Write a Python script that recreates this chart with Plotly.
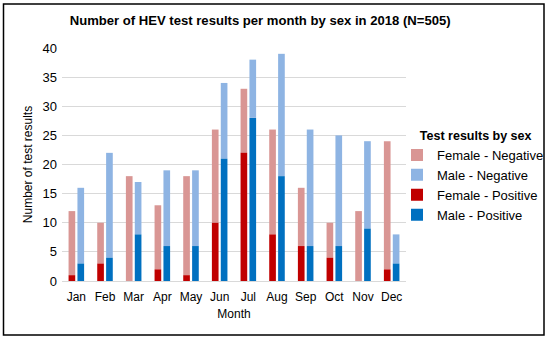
import plotly.graph_objects as go

months = ["Jan", "Feb", "Mar", "Apr", "May", "Jun", "Jul", "Aug", "Sep", "Oct", "Nov", "Dec"]
female_positive = [1, 3, 0, 2, 1, 10, 22, 8, 6, 4, 0, 2]
female_negative = [11, 7, 18, 11, 17, 16, 11, 18, 10, 6, 12, 22]
male_positive = [3, 4, 8, 6, 6, 21, 28, 18, 6, 6, 9, 3]
male_negative = [13, 18, 9, 13, 13, 13, 10, 21, 20, 19, 15, 5]
yticks = [0, 5, 10, 15, 20, 25, 30, 35, 40]

W, H = 550, 340
ML, MR, MT, MB = 62, 144, 48, 59

fig = go.Figure()
fig.add_trace(go.Bar(name="Female - Negative", x=months, y=female_negative, base=female_positive,
                     offsetgroup="F", marker_color="#D99694", marker_line_width=0))
fig.add_trace(go.Bar(name="Male - Negative", x=months, y=male_negative, base=male_positive,
                     offsetgroup="M", marker_color="#8EB4E3", marker_line_width=0))
fig.add_trace(go.Bar(name="Female - Positive", x=months, y=female_positive,
                     offsetgroup="F", marker_color="#C00000", marker_line_width=0))
fig.add_trace(go.Bar(name="Male - Positive", x=months, y=male_positive,
                     offsetgroup="M", marker_color="#0070C0", marker_line_width=0))

pw = W - ML - MR
ph = H - MT - MB
x0 = (3.5 - ML) / pw
x1 = (W - 6 - ML) / pw
y1 = (H - MB - 4) / ph
y0 = (H - MB - (H - 5)) / ph

nb = "\u00a0" * 6

fig.update_layout(
    width=W, height=H,
    margin=dict(l=ML, r=MR, t=MT, b=MB, autoexpand=False),
    barmode="group", bargap=0.38, bargroupgap=0.25,
    paper_bgcolor="white", plot_bgcolor="white",
    font=dict(family="Liberation Sans, Arial, sans-serif", size=12, color="#000000"),
    title=dict(text="<b>Number of HEV test results per month by sex in 2018 (N=505)</b>",
               x=0.473, xanchor="center", y=0.94, yanchor="middle",
               font=dict(size=13.1, color="#000000")),
    xaxis=dict(title=dict(text="Month", standoff=6, font=dict(size=12)),
               showline=True, linecolor="#D9D9D9", linewidth=1, ticks="",
               tickfont=dict(size=12), ticklabelstandoff=5, automargin=False),
    yaxis=dict(title=dict(text="Number of test results", standoff=7, font=dict(size=12)),
               range=[0, 40], tickvals=yticks, showgrid=True, gridcolor="#D9D9D9",
               gridwidth=1, zeroline=False, showline=False, tickfont=dict(size=13),
               ticks="", ticklen=0, ticklabelstandoff=4, automargin=False),
    legend=dict(title=dict(text=nb + "<b>Test results by sex</b>", font=dict(size=12.5)),
                x=(397 - ML) / pw, xanchor="left", y=0.675, yanchor="top",
                bgcolor="rgba(0,0,0,0)",
                font=dict(size=13), traceorder="normal", itemwidth=30),
    shapes=[dict(type="rect", xref="paper", yref="paper", x0=x0, x1=x1, y0=y0, y1=y1,
                 line=dict(color="#000000", width=1.5), layer="above")],
)

fig.write_html("out.html", config={"displayModeBar": False},
               post_script="document.body.style.margin='0';"
                           "document.body.style.overflow='hidden';"
                           "document.documentElement.style.overflow='hidden';")
